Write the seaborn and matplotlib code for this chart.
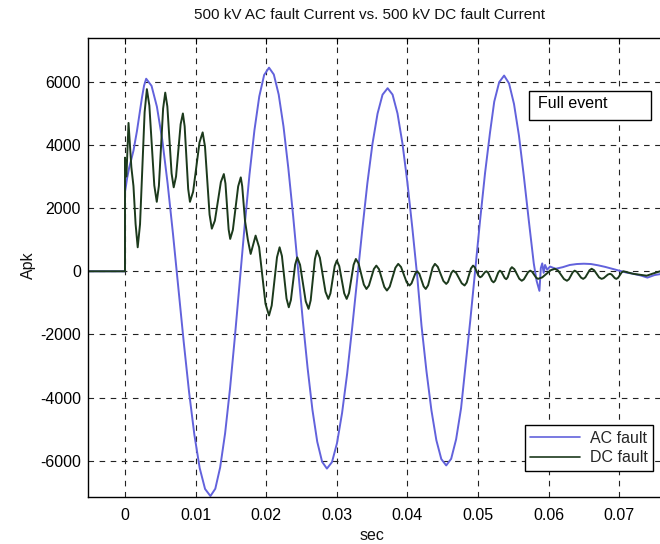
import matplotlib
matplotlib.use("Agg")
import matplotlib.pyplot as plt
import pandas as pd
import seaborn as sns
from matplotlib.lines import Line2D
from matplotlib.patches import Rectangle

# ---------------- data ----------------
# AC fault current (time in s, current in A peak)
ac_t = [-0.0052, 0.0, 0.0, 0.0003, 0.0006, 0.0009, 0.0012, 0.0017, 0.0021, 0.0024, 0.0027, 0.0030,
        0.00376, 0.00452, 0.00528, 0.00603, 0.00679, 0.00755, 0.00831, 0.00907, 0.00983, 0.01058, 0.01134, 0.0121,
        0.01279, 0.01348, 0.01418, 0.01487, 0.01556, 0.01625, 0.01694, 0.01763, 0.01833, 0.01902, 0.01971, 0.0204,
        0.02108, 0.02177, 0.02245, 0.02313, 0.02382, 0.0245, 0.02518, 0.02587, 0.02655, 0.02723, 0.02792, 0.0286,
        0.02932, 0.03003, 0.03075, 0.03147, 0.03218, 0.0329, 0.03362, 0.03433, 0.03505, 0.03577, 0.03648, 0.0372,
        0.0379, 0.0386, 0.0393, 0.0400, 0.0407, 0.0414, 0.0420, 0.0427, 0.0434, 0.0441, 0.0448, 0.0455,
        0.0462, 0.0469, 0.0476, 0.0482, 0.0489, 0.0496, 0.0503, 0.0510, 0.0517, 0.0523, 0.0530, 0.0537,
        0.0544, 0.0551, 0.0558, 0.0565, 0.0572, 0.0579, 0.0583, 0.0587,
        0.0589, 0.0591, 0.0593, 0.0595, 0.0598, 0.0602, 0.0610, 0.0620, 0.0630, 0.0640, 0.0650,
        0.0660, 0.0670, 0.0680, 0.0690, 0.0700, 0.0710, 0.0720, 0.0730, 0.0740, 0.0750, 0.0758]
ac_v = [0, 0, 2500, 2950, 3290, 3550, 3820, 4450, 5050, 5500, 5880, 6100,
        5875, 5214, 4163, 2795, 1202, -510, -2222, -3815, -5183, -6234, -6895, -7120,
        -6889, -6211, -5132, -3728, -2092, -335, 1422, 3058, 4462, 5541, 6219, 6450,
        6234, 5599, 4589, 3275, 1745, 100, -1545, -3075, -4389, -5399, -6034, -6250,
        -6045, -5443, -4485, -3238, -1785, -225, 1335, 2788, 4035, 4993, 5595, 5800,
        5597, 4999, 4049, 2813, 1373, -175, -1723, -3163, -4399, -5349, -5947, -6150,
        -5940, -5323, -4341, -3063, -1574, 25, 1624, 3113, 4391, 5373, 5990, 6200,
        5950, 5300, 4300, 3000, 1600, 250, -300, -620,
        100, 250, -50, 200, 50, 150, 80, 130, 200, 230, 240,
        230, 190, 140, 80, 20, -40, -80, -130, -200, -120, -90]

# DC fault current as (time, value) readings
dc_points = [
    (-0.0052, 0), (0.0, 0), (0.0, 3600), (0.0002, 3000), (0.0005, 4700), (0.0009, 3300),
    (0.0012, 2700), (0.0015, 1500), (0.0018, 760),
    (0.00213, 1491), (0.00245, 3265), (0.00278, 5039), (0.0031, 5770),
    (0.00345, 5249), (0.0038, 3985), (0.00415, 2721), (0.0045, 2200),
    (0.0048, 2705), (0.0051, 3930), (0.0054, 5155), (0.0057, 5660),
    (0.0060, 5222), (0.0063, 4160), (0.0066, 3098), (0.0069, 2660),
    (0.00723, 3002), (0.00755, 3830), (0.00788, 4658), (0.0082, 5000),
    (0.00845, 4591), (0.0087, 3600), (0.00895, 2609), (0.0092, 2200),
    (0.00965, 2521), (0.0101, 3300), (0.01055, 4079), (0.0110, 4400),
    (0.01133, 3955), (0.01165, 2875), (0.01198, 1795), (0.0123, 1350),
    (0.01273, 1603), (0.01315, 2215), (0.01358, 2827), (0.0140, 3080),
    (0.01423, 2780), (0.01445, 2053), (0.01468, 1325), (0.0149, 1025),
    (0.01528, 1310), (0.01565, 2000), (0.01603, 2690), (0.0164, 2975),
    (0.0166, 2700), (0.0170, 1600), (0.0174, 1000), (0.0178, 550),
    (0.01815, 840), (0.0185, 1130),
    (0.0190, 760), (0.01945, -135), (0.0199, -1030), (0.0204, -1400),
    (0.02078, -1085), (0.02115, -320), (0.02153, 445), (0.0219, 760),
    (0.02223, 483), (0.02255, -190), (0.02288, -863), (0.0232, -1140),
    (0.0235, -909), (0.0238, -350), (0.0241, 209), (0.0244, 440),
    (0.0248, 202), (0.0252, -375), (0.0256, -952), (0.0260, -1190),
    (0.0263, -921), (0.0266, -268), (0.0269, 386), (0.0272, 655),
    (0.0276, 432), (0.0280, -110), (0.0284, -652), (0.0288, -875),
    (0.0291, -698), (0.0294, -268), (0.0297, 163), (0.0300, 340),
    (0.03035, 163), (0.0307, -268), (0.03105, -698), (0.0314, -875),
    (0.03173, -690), (0.03205, -243), (0.03238, 205), (0.0327, 390),
    (0.03308, 251), (0.03345, -85), (0.03383, -421), (0.0342, -560),
    (0.03455, -452), (0.0349, -190), (0.03525, 72), (0.0356, 180),
    (0.03598, 65), (0.03635, -215), (0.03673, -495), (0.0371, -610),
    (0.0375, -487), (0.0379, -188), (0.0383, 112), (0.0387, 235),
    (0.0391, 135), (0.0395, -108), (0.0399, -350), (0.0403, -450),
    (0.04058, -384), (0.04085, -225), (0.04113, -66), (0.0414, 0),
    (0.0417, -82), (0.0420, -280), (0.0423, -478), (0.0426, -560),
    (0.04293, -444), (0.04325, -163), (0.04358, 119), (0.0439, 235),
    (0.0443, 142), (0.0447, -83), (0.0451, -307), (0.0455, -400),
    (0.04575, -339), (0.0460, -190), (0.04625, -41), (0.0465, 20),
    (0.0469, -49), (0.0473, -215), (0.0477, -381), (0.0481, -450),
    (0.0484, -358), (0.0487, -135), (0.0490, 88), (0.0493, 180),
    (0.04955, 126), (0.0498, -5), (0.05005, -136), (0.0503, -190),
    (0.05053, -162), (0.05075, -95), (0.05098, -28), (0.0512, 0),
    (0.05145, -51), (0.0517, -175), (0.05195, -299), (0.0522, -350),
    (0.05243, -296), (0.05265, -165), (0.05288, -34), (0.0531, 20),
    (0.05333, -19), (0.05355, -115), (0.05378, -211), (0.0540, -250),
    (0.0542, -195), (0.0544, -60), (0.0546, 75), (0.0548, 130),
    (0.05515, 67), (0.0555, -85), (0.05585, -237), (0.0562, -300),
    (0.0565, -253), (0.0568, -140), (0.0571, -27), (0.0574, 20),
    (0.05768, -18), (0.05795, -110), (0.05823, -202), (0.0585, -240),
    (0.0591, -193), (0.0597, -80), (0.0603, 33), (0.0609, 80),
    (0.06133, 25), (0.06175, -110), (0.06218, -245), (0.0626, -300),
    (0.06288, -253), (0.06315, -140), (0.06343, -27), (0.0637, 20),
    (0.0640, -18), (0.0643, -110), (0.0646, -202), (0.0649, -240),
    (0.0652, -193), (0.0655, -80), (0.0658, 33), (0.0661, 80),
    (0.06645, 33), (0.0668, -80), (0.06715, -193), (0.0675, -240),
    (0.0678, -217), (0.0681, -160), (0.0684, -103), (0.0687, -80),
    (0.06893, -103), (0.06915, -160), (0.06938, -217), (0.0696, -240),
    (0.06985, -205), (0.0701, -120), (0.07035, -35), (0.0706, 0),
    (0.0713, -40), (0.0720, -80), (0.0730, -110), (0.0739, -140),
    (0.0748, -70), (0.0758, 0),
]
dc_t = [p[0] for p in dc_points]
dc_v = [p[1] for p in dc_points]

series_names = ["AC fault", "DC fault"]
x_ticks = [0, 0.01, 0.02, 0.03, 0.04, 0.05, 0.06, 0.07]
x_tick_labels = ["0", "0.01", "0.02", "0.03", "0.04", "0.05", "0.06", "0.07"]
y_ticks = [-6000, -4000, -2000, 0, 2000, 4000, 6000]
y_tick_labels = ["-6000", "-4000", "-2000", "0", "2000", "4000", "6000"]
title = "500 kV AC fault Current vs. 500 kV DC fault Current"
box_text = "Full event"

# ---------------- build table ----------------
df = pd.concat([
    pd.DataFrame({"t": ac_t, "I": ac_v, "series": series_names[0]}),
    pd.DataFrame({"t": dc_t, "I": dc_v, "series": series_names[1]}),
], ignore_index=True)

AC_COLOR = "#6262dc"
DC_COLOR = "#1c3a1c"

sns.set_theme(style="white")
plt.rcParams["font.family"] = ["Liberation Sans", "DejaVu Sans"]

W, H = 660, 544
fig = plt.figure(figsize=(W / 100, H / 100), dpi=100)
fig.patch.set_facecolor("white")
ax = fig.add_axes([88 / W, 1 - 497 / H, 572 / W, 459 / H])

sns.lineplot(data=df, x="t", y="I", hue="series",
             palette={series_names[0]: AC_COLOR, series_names[1]: DC_COLOR},
             estimator=None, sort=False, linewidth=1.4, legend=False, ax=ax)

ax.set_xlim(-0.00524, 0.07578)
ax.set_ylim(-7150, 7390)
ax.set_xticks(x_ticks)
ax.set_xticklabels(x_tick_labels)
ax.set_yticks(y_ticks)
ax.set_yticklabels(y_tick_labels)
ax.set_xlabel("")
ax.set_ylabel("")
ax.grid(True, color="#222222", linestyle=(0, (5, 5)), linewidth=0.8)
ax.set_axisbelow(True)
ax.tick_params(axis="both", direction="in", length=4, width=0.8, colors="black",
               labelsize=11.5, top=True)
ax.tick_params(axis="x", pad=8)
ax.tick_params(axis="y", pad=5)
for s in ["left", "top", "bottom"]:
    ax.spines[s].set_color("black")
    ax.spines[s].set_linewidth(1.0)
ax.spines["right"].set_visible(False)

# titles / labels
fig.text(370 / W, 1 - 15 / H, title, ha="center", va="center", fontsize=11, color="#111111")
fig.text(372 / W, 1 - 535 / H, "sec", ha="center", va="center", fontsize=11.5, color="#111111")
fig.text(28 / W, 1 - 265 / H, "Apk", ha="center", va="center", rotation=90, fontsize=11.5, color="#111111")

# "Full event" annotation box
fig.add_artist(Rectangle((529 / W, 1 - 120 / H), 122 / W, 29 / H, transform=fig.transFigure,
                         facecolor="white", edgecolor="black", linewidth=1.0, zorder=5))
fig.text(538 / W, 1 - 104 / H, box_text, ha="left", va="center", fontsize=11.5,
         color="black", zorder=6)

# legend
handles = [Line2D([], [], color=AC_COLOR, linewidth=1.2),
           Line2D([], [], color=DC_COLOR, linewidth=1.2)]
leg = ax.legend(handles, series_names, loc="lower right",
                bbox_to_anchor=(653 / W, 1 - 471 / H), bbox_transform=fig.transFigure,
                frameon=True, fancybox=False, edgecolor="black", framealpha=1,
                fontsize=11.5, handlelength=3.1, handletextpad=0.6, borderpad=0.35,
                labelspacing=0.3, borderaxespad=0)
leg.get_frame().set_linewidth(1.0)

fig.savefig("out.png", dpi=100, facecolor="white")
